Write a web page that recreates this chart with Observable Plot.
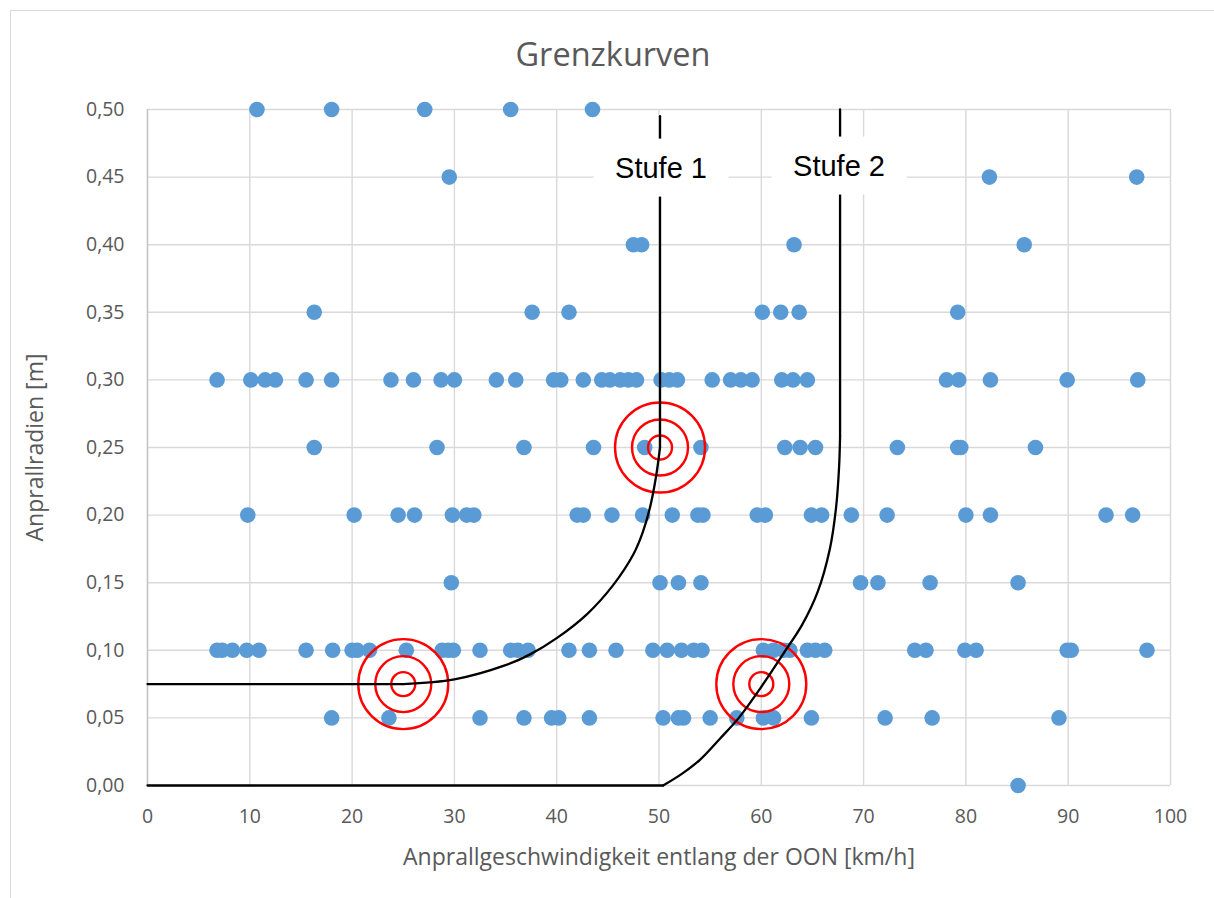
<!DOCTYPE html>
<html>
<head>
<meta charset="utf-8">
<script src="https://cdn.jsdelivr.net/npm/d3@7"></script>
<script src="https://cdn.jsdelivr.net/npm/@observablehq/plot@0.6"></script>
<style>
  body { margin: 0; background: #fff; }
  #wrap { position: relative; width: 1214px; height: 898px; overflow: hidden; }
  #frame { position: absolute; left: 10px; top: 10px; width: 1300px; height: 1000px; border: 1px solid #d9d9d9; }
  #chart { position: absolute; left: 0; top: 0; }
</style>
</head>
<body>
<div id="wrap"><div id="frame"></div><div id="chart"></div></div>
<script>
// Impact speed along the OON [km/h] for each impact radius [m]
const radii = [0.50, 0.45, 0.40, 0.35, 0.30, 0.25, 0.20, 0.15, 0.10, 0.05, 0.00];
const speedsR050 = [10.7, 18.0, 27.1, 35.5, 43.5];
const speedsR045 = [29.5, 82.3, 96.7];
const speedsR040 = [47.5, 48.3, 63.2, 85.7];
const speedsR035 = [16.3, 37.6, 41.2, 60.1, 61.9, 63.7, 79.2];
const speedsR030 = [6.8, 10.1, 11.5, 12.5, 15.5, 18.0, 23.8, 26.0, 28.7, 30.0, 34.1, 36.0, 39.7, 40.4,
  42.6, 44.4, 45.2, 46.2, 47.0, 47.8, 50.2, 51.0, 51.8, 55.2, 57.0, 58.0, 59.1, 62.0, 63.1, 64.5,
  78.1, 79.3, 82.4, 89.9, 96.8];
const speedsR025 = [16.3, 28.3, 36.8, 43.6, 48.6, 54.1, 62.3, 63.8, 65.3, 73.3, 79.2, 79.5, 86.8];
const speedsR020 = [9.8, 20.2, 24.5, 26.1, 29.8, 31.2, 31.9, 42.0, 42.6, 45.4, 48.4, 51.3, 53.8, 54.3,
  59.6, 60.4, 64.9, 65.9, 68.8, 72.3, 80.0, 82.4, 93.7, 96.3];
const speedsR015 = [29.7, 50.1, 51.9, 54.1, 69.7, 71.4, 76.5, 85.1];
const speedsR010 = [6.8, 7.3, 8.3, 9.7, 10.9, 15.5, 18.1, 20.0, 20.5, 21.7, 25.3, 28.8, 29.4, 29.9,
  32.5, 35.5, 36.2, 37.2, 41.2, 43.2, 45.8, 49.4, 50.8, 52.2, 53.4, 54.2, 60.2, 61.2, 62.2, 62.8,
  64.5, 65.3, 66.2, 75.0, 76.1, 79.9, 81.0, 89.9, 90.3, 97.7];
const speedsR005 = [18.0, 23.6, 32.5, 36.8, 39.5, 40.2, 43.2, 50.4, 51.9, 52.4, 55.0, 57.6, 60.2,
  61.2, 64.9, 72.1, 76.7, 89.1];
const speedsR000 = [85.1];
const speedRows = [speedsR050, speedsR045, speedsR040, speedsR035, speedsR030, speedsR025,
  speedsR020, speedsR015, speedsR010, speedsR005, speedsR000];

// Limit curves (Grenzkurven): straight lead-in, curved bend, vertical run-out
const stufe1InX = [0, 25];
const stufe1InY = [0.075, 0.075];
const stufe1BendX = [25, 30, 35, 37.4, 40, 43, 45.5, 47.5, 48.4, 49.1, 49.7, 50.1];
const stufe1BendY = [0.075, 0.0785, 0.089, 0.097, 0.109, 0.127, 0.148, 0.171, 0.187, 0.205, 0.228, 0.25];
const stufe1OutX = [50.1, 50.1];
const stufe1OutY = [0.25, 0.495];

const stufe2InX = [0, 50.4];
const stufe2InY = [0, 0];
const stufe2BendX = [50.4, 52.3, 54.0, 56.0, 57.8, 60.0, 62.2, 64.0, 65.5, 66.7, 67.3, 67.6, 67.7];
const stufe2BendY = [0, 0.009, 0.019, 0.035, 0.050, 0.073, 0.098, 0.119, 0.143, 0.175, 0.205, 0.235, 0.258];
const stufe2OutX = [67.7, 67.7];
const stufe2OutY = [0.258, 0.50];

// Marked reference points (red target rings)
const ringX = [25, 50.1, 60];
const ringY = [0.075, 0.25, 0.075];

// Curve labels
const labelText = ["Stufe 1", "Stufe 2"];
const labelX = [50.2, 67.6];
const labelY = [0.4565, 0.458];

const xTicks = [0, 10, 20, 30, 40, 50, 60, 70, 80, 90, 100];
const yTicks = [0, 0.05, 0.10, 0.15, 0.20, 0.25, 0.30, 0.35, 0.40, 0.45, 0.50];

const chartTitle = "Grenzkurven";
const xTitle = "Anprallgeschwindigkeit entlang der OON [km/h]";
const yTitle = "Anprallradien [m]";

const points = radii.flatMap((r, i) => speedRows[i].map(v => ({speed: v, radius: r})));
const pairs = (xs, ys) => xs.map((x, i) => ({x, y: ys[i]}));
const straightParts = [
  ...pairs(stufe1InX, stufe1InY).map(d => ({...d, part: "s1in"})),
  ...pairs(stufe1OutX, stufe1OutY).map(d => ({...d, part: "s1out"})),
  ...pairs(stufe2InX, stufe2InY).map(d => ({...d, part: "s2in"})),
  ...pairs(stufe2OutX, stufe2OutY).map(d => ({...d, part: "s2out"}))
];
const bendParts = [
  ...pairs(stufe1BendX, stufe1BendY).map(d => ({...d, part: "s1"})),
  ...pairs(stufe2BendX, stufe2BendY).map(d => ({...d, part: "s2"}))
];
const rings = pairs(ringX, ringY);
const labels = labelText.map((t, i) => ({t, x: labelX[i], y: labelY[i]}));

const commaFmt = d => d.toFixed(2).replace(".", ",");
const ringStyle = {x: "x", y: "y", fill: "none", stroke: "#ff0000", strokeWidth: 2.4};
const curveStyle = {x: "x", y: "y", z: "part", stroke: "#000", strokeWidth: 2.3};

const plot = Plot.plot({
  width: 1214,
  height: 898,
  marginLeft: 147,
  marginRight: 44,
  marginTop: 109,
  marginBottom: 113,
  style: {fontFamily: "'Open Sans', sans-serif", fontSize: "19.5px", color: "#595959", background: "transparent", overflow: "visible"},
  x: {domain: [0, 100], ticks: xTicks, tickSize: 0, tickPadding: 24, label: null},
  y: {domain: [0, 0.5], ticks: yTicks, tickSize: 0, tickPadding: 23, tickFormat: commaFmt, label: null},
  marks: [
    Plot.ruleX(xTicks, {stroke: "#d9d9d9", strokeWidth: 1.4}),
    Plot.ruleY(yTicks, {stroke: "#d9d9d9", strokeWidth: 1.4}),
    Plot.ruleX([0], {stroke: "#c4c4c4", strokeWidth: 1.4}),
    Plot.dot(points, {x: "speed", y: "radius", r: 7.8, fill: "#5b9bd5"}),
    Plot.dot(rings, {...ringStyle, r: 12}),
    Plot.dot(rings, {...ringStyle, r: 28}),
    Plot.dot(rings, {...ringStyle, r: 45}),
    Plot.line(straightParts, {...curveStyle, curve: "linear"}),
    Plot.line(bendParts, {...curveStyle, curve: "catmull-rom"}),
    Plot.text(labels, {x: "x", y: "y", text: "t", fontFamily: "'Liberation Sans', Arial, sans-serif", fontSize: 29, fill: "#000", className: "stufe-label"}),
    Plot.text([chartTitle], {frameAnchor: "top", lineAnchor: "middle", dx: -46, dy: -54, fontSize: 32.5, fill: "#595959"}),
    Plot.text([yTitle], {frameAnchor: "left", textAnchor: "middle", lineAnchor: "middle", dx: -112, rotate: -90, fontSize: 23, fill: "#595959"}),
    Plot.text([xTitle], {frameAnchor: "bottom", lineAnchor: "middle", dy: 72, fontSize: 23, fill: "#595959"})
  ]
});

document.getElementById("chart").append(plot);

// White boxes behind the curve labels, sized from the rendered text
const svgNS = "http://www.w3.org/2000/svg";
Array.from(plot.querySelectorAll("text"))
  .filter(t => labelText.includes(t.textContent))
  .forEach(t => {
    const b = t.getBBox();
    const w = b.width + 43, h = 58;
    const rect = document.createElementNS(svgNS, "rect");
    rect.setAttribute("x", b.x + b.width / 2 - w / 2);
    rect.setAttribute("y", b.y + b.height / 2 - h / 2);
    rect.setAttribute("width", w);
    rect.setAttribute("height", h);
    rect.setAttribute("fill", "#fff");
    const tr = t.getAttribute("transform");
    if (tr) rect.setAttribute("transform", tr);
    t.parentNode.insertBefore(rect, t);
  });
</script>
</body>
</html>
